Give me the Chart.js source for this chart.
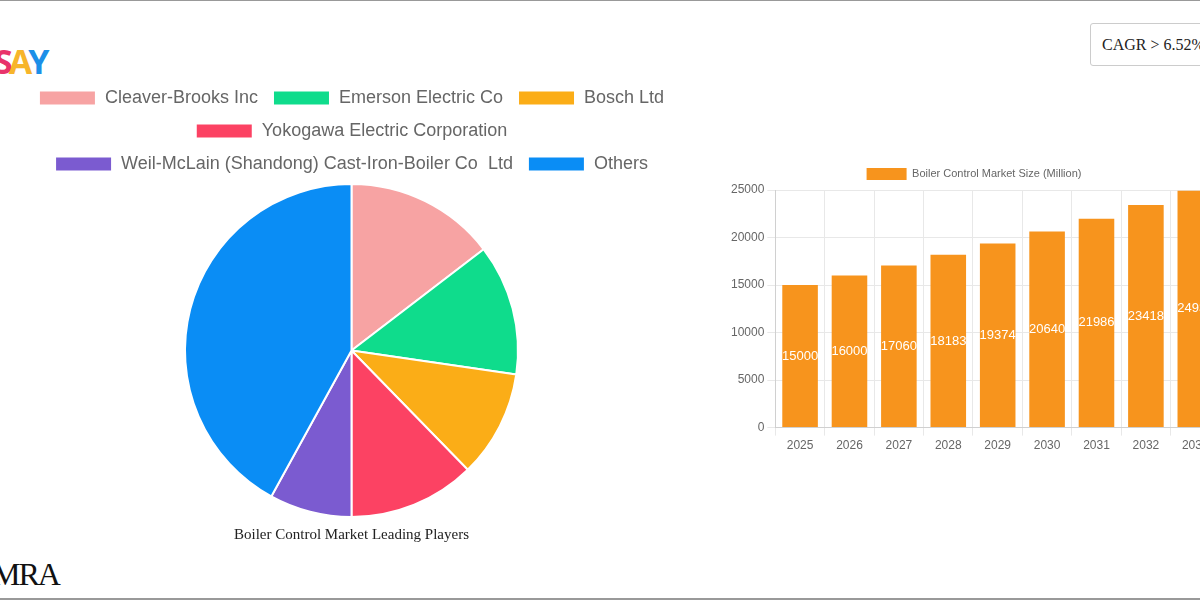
<!DOCTYPE html>
<html><head><meta charset="utf-8">
<script src="https://cdn.jsdelivr.net/npm/chart.js@4"></script>
<style>
html,body{margin:0;padding:0;width:1200px;height:600px;overflow:hidden;background:#fff;position:relative;font-family:"Liberation Sans",Arial,sans-serif}
#topline{position:absolute;left:0;top:0;width:1200px;height:1px;background:#999}
#botline{position:absolute;left:0;top:598px;width:1200px;height:2px;background:#999}
#logo{position:absolute;left:-6px;top:38px;font:bold 34px "Open Sans",sans-serif;letter-spacing:-4px}
#mra{position:absolute;left:-8px;top:556px;font:32px "Liberation Serif",serif;color:#111;letter-spacing:-2px}
#cagr{position:absolute;left:1090px;top:23px;width:140px;height:43px;border:1px solid #ccc;border-radius:3px;font:16px "Liberation Serif",serif;color:#222;line-height:41px;padding-left:11px;box-sizing:border-box}
#pieWrap{position:absolute;left:0;top:74px;width:703px;height:474px}
#barWrap{position:absolute;left:728px;top:158px;width:502px;height:298px}
</style></head><body>
<div id="topline"></div><div id="botline"></div>
<div id="logo"><span style="color:#e8336b">S</span><span style="color:#f7b52b">A</span><span style="color:#1c8fe8">Y</span></div>
<div id="mra">MRA</div>
<div id="cagr">CAGR &gt; 6.52%</div>
<div id="pieWrap"><canvas id="pie"></canvas></div>
<div id="barWrap"><canvas id="bar"></canvas></div>
<script>
const players = ["Cleaver-Brooks Inc","Emerson Electric Co","Bosch Ltd","Yokogawa Electric Corporation","Weil-McLain (Shandong) Cast-Iron-Boiler Co  Ltd","Others"];
const shares = [14.6,12.7,10.4,12.3,8.0,42.0];
const pieColors = ["#f7a3a3","#0fdc8c","#fbad17","#fc4263","#7b5bd0","#0a8df5"];
const years = ["2025","2026","2027","2028","2029","2030","2031","2032","2033"];
const marketSize = [15000,16000,17060,18183,19374,20640,21986,23418,24930];

new Chart(document.getElementById('pie'),{
  type:'pie',
  data:{labels:players,datasets:[{data:shares,backgroundColor:pieColors,borderColor:'#fff',borderWidth:2}]},
  options:{responsive:true,maintainAspectRatio:false,animation:false,
    plugins:{
      legend:{position:'top',labels:{font:{size:18,family:'"Liberation Sans",Arial'},color:'#666',boxWidth:57,boxHeight:15,padding:15}},
      title:{display:true,position:'bottom',text:'Boiler Control Market Leading Players',font:{size:15,family:'"Liberation Serif",serif',weight:'normal'},color:'#222',padding:{top:8,bottom:4}}
    }}
});

const barLabels={id:'barLabels',afterDatasetsDraw(chart){
  const ctx=chart.ctx;const meta=chart.getDatasetMeta(0);
  ctx.save();ctx.fillStyle='#fff';ctx.font='13px "Liberation Sans",Arial';ctx.textAlign='center';ctx.textBaseline='middle';
  meta.data.forEach((el,i)=>{ctx.fillText(String(marketSize[i]),el.x,(el.y+el.base)/2);});
  ctx.restore();}};

new Chart(document.getElementById('bar'),{
  type:'bar',
  data:{labels:years,datasets:[{label:'Boiler Control Market Size (Million)',data:marketSize,backgroundColor:'#f7941d',categoryPercentage:0.8,barPercentage:0.9}]},
  options:{responsive:true,maintainAspectRatio:false,animation:false,
    scales:{
      y:{min:0,max:25000,ticks:{stepSize:5000,color:'#666',font:{size:12},callback:v=>String(v)},grid:{color:'#e8e8e8'}},
      x:{ticks:{color:'#666',font:{size:12}},grid:{color:'#e8e8e8'}}
    },
    layout:{padding:{right:10}},
    plugins:{legend:{labels:{font:{size:11},color:'#666',boxWidth:40,boxHeight:12}}}},
  plugins:[barLabels]
});
</script>
</body></html>
